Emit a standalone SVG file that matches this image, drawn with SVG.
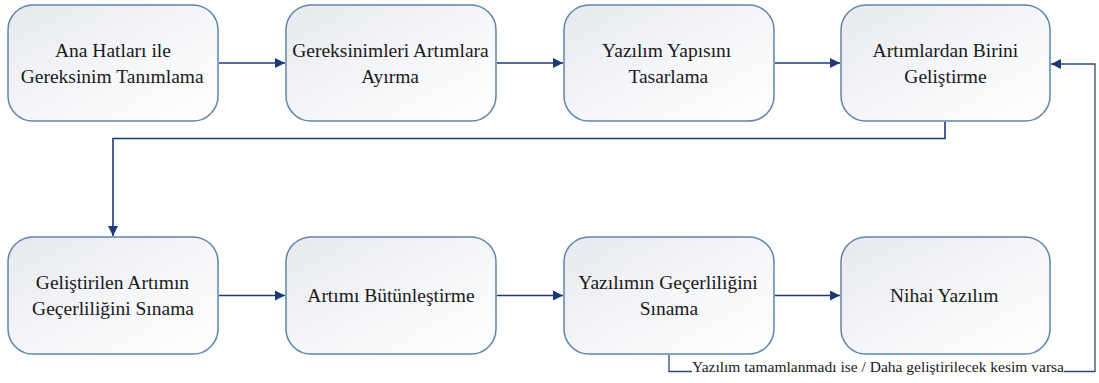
<svg xmlns="http://www.w3.org/2000/svg" width="1099" height="383" viewBox="0 0 1099 383">
  <defs>
    <linearGradient id="boxFill" x1="0" y1="0" x2="1" y2="1">
      <stop offset="0" stop-color="#e6e9ee"/>
      <stop offset="0.6" stop-color="#f7f8fa"/>
      <stop offset="1" stop-color="#ffffff"/>
    </linearGradient>
    <marker id="arrow" viewBox="0 0 10 10" refX="10" refY="5" markerWidth="10" markerHeight="10" markerUnits="userSpaceOnUse" orient="auto">
      <path d="M0,0 L10,5 L0,10 Z" fill="#1c3a7a"/>
    </marker>
    <style>
      .box { fill: url(#boxFill); stroke: #5f84ad; stroke-width: 1.5; }
      .lbl { font-family: "Liberation Serif", "Times New Roman", serif; font-size: 19.5px; fill: #1a1a1a; }
      .note { font-family: "Liberation Serif", "Times New Roman", serif; font-size: 15px; fill: #1a1a1a; }
      .conn { fill: none; stroke: #1c3a7a; stroke-width: 1.6; }
      .plain { fill: none; stroke: #2b4a86; stroke-width: 1.3; }
    </style>
  </defs>

  <rect width="1099" height="383" fill="#ffffff"/>

  <!-- top row; label x values are left edges that centre each line in its box -->
  <g id="n1">
    <rect class="box" x="8" y="5" width="210" height="116" rx="25"/>
    <text class="lbl" x="55" y="57">Ana Hatları ile</text>
    <text class="lbl" x="20.7" y="83">Gereksinim Tanımlama</text>
  </g>
  <g id="n2">
    <rect class="box" x="286" y="5" width="210" height="116" rx="25"/>
    <text class="lbl" x="292.2" y="57">Gereksinimleri Artımlara</text>
    <text class="lbl" x="361.2" y="83">Ayırma</text>
  </g>
  <g id="n3">
    <rect class="box" x="564" y="5" width="210" height="116" rx="25"/>
    <text class="lbl" x="602.1" y="57">Yazılım Yapısını</text>
    <text class="lbl" x="628.4" y="83">Tasarlama</text>
  </g>
  <g id="n4">
    <rect class="box" x="841" y="5" width="209" height="116" rx="25"/>
    <text class="lbl" x="872.6" y="57">Artımlardan Birini</text>
    <text class="lbl" x="904.3" y="83">Geliştirme</text>
  </g>

  <!-- bottom row -->
  <g id="n5">
    <rect class="box" x="8" y="237" width="210" height="117" rx="25"/>
    <text class="lbl" x="35.8" y="289">Geliştirilen Artımın</text>
    <text class="lbl" x="32.1" y="315">Geçerliliğini Sınama</text>
  </g>
  <g id="n6">
    <rect class="box" x="286" y="237" width="210" height="117" rx="25"/>
    <text class="lbl" x="307.3" y="302">Artımı Bütünleştirme</text>
  </g>
  <g id="n7">
    <rect class="box" x="564" y="237" width="210" height="117" rx="25"/>
    <text class="lbl" x="578.3" y="289">Yazılımın Geçerliliğini</text>
    <text class="lbl" x="639.7" y="315">Sınama</text>
  </g>
  <g id="n8">
    <rect class="box" x="841" y="237" width="209" height="117" rx="25"/>
    <text class="lbl" x="890" y="302">Nihai Yazılım</text>
  </g>

  <!-- connectors -->
  <g id="connectors">
    <path class="conn" d="M219,63 H285" marker-end="url(#arrow)"/>
    <path class="conn" d="M497,63 H563" marker-end="url(#arrow)"/>
    <path class="conn" d="M775,63 H840" marker-end="url(#arrow)"/>
    <path class="conn" d="M945,122 V138.5 H113 V236" marker-end="url(#arrow)"/>
    <path class="conn" d="M219,295.5 H285" marker-end="url(#arrow)"/>
    <path class="conn" d="M497,295.5 H563" marker-end="url(#arrow)"/>
    <path class="conn" d="M775,295.5 H840" marker-end="url(#arrow)"/>
    <path class="plain" d="M669,355 V371.5 H692"/>
    <path class="plain" d="M1064,371.5 H1095 V64 H1051" marker-end="url(#arrow)"/>
    <text class="note" x="692" y="372" textLength="372" lengthAdjust="spacingAndGlyphs">Yazılım tamamlanmadı ise / Daha geliştirilecek kesim varsa</text>
  </g>
</svg>
